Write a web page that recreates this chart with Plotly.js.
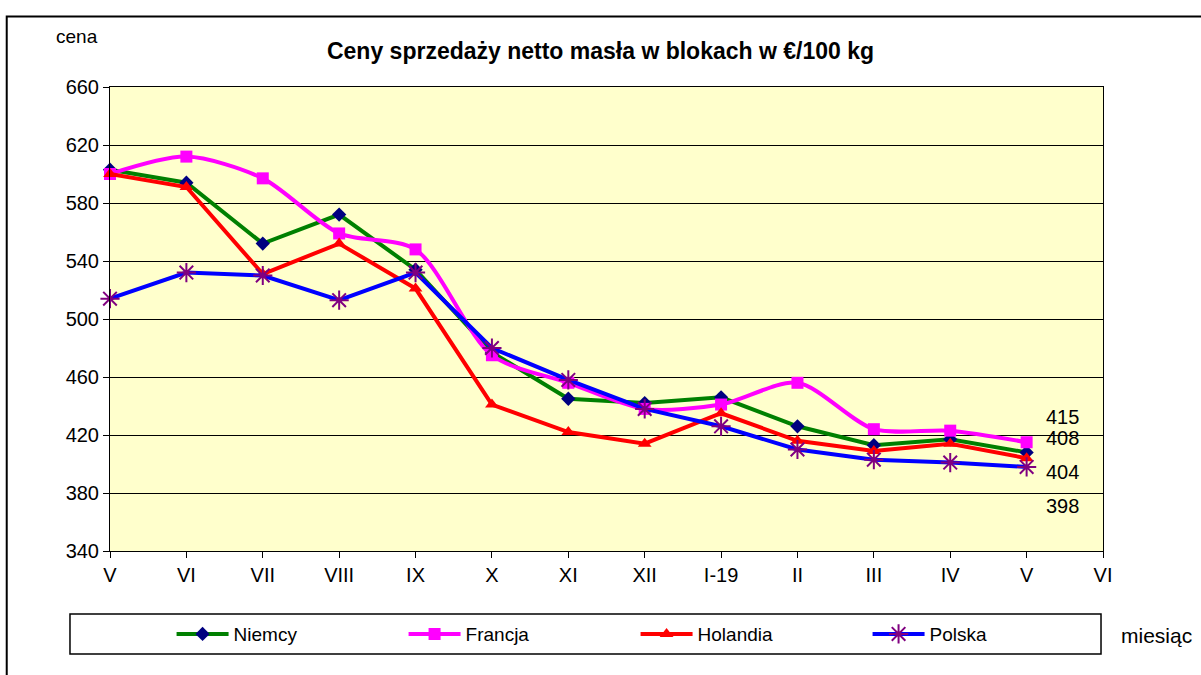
<!DOCTYPE html>
<html>
<head>
<meta charset="utf-8">
<script src="https://cdn.plot.ly/plotly-3.0.1.min.js"></script>
<style>html,body{margin:0;padding:0;background:#fff;}#chart{width:1201px;height:675px;}</style>
</head>
<body>
<div id="chart"></div>
<script>
const tickLabels = ["V","VI","VII","VIII","IX","X","XI","XII","I-19","II","III","IV","V","VI"];
const monthIdx = [0,1,2,3,4,5,6,7,8,9,10,11,12];
const niemcy   = [603,594,552,572,534,477,445,442,446,426,413,417,408];
const francja  = [600,612,597,559,548,475,456,438,441,456,424,423,415];
const holandia = [600,591,531,552,521,441,422,414,435,416,409,414,404];
const polska   = [514,532,530,513,532,480,458,438,426,410,403,401,398];
const seriesNames = ["Niemcy","Francja","Holandia","Polska"];

const font = "Liberation Sans, Arial, sans-serif";

const traces = [
  {name: seriesNames[0], x: monthIdx, y: niemcy, mode: "lines+markers", cliponaxis: false,
   line: {color: "#008000", width: 4},
   marker: {symbol: "diamond", size: 11, color: "#000080"}},
  {name: seriesNames[1], x: monthIdx, y: francja, mode: "lines+markers", cliponaxis: false,
   line: {color: "#FF00FF", width: 4, shape: "spline", smoothing: 0.8},
   marker: {symbol: "square", size: 12, color: "#FF00FF"}},
  {name: seriesNames[2], x: monthIdx, y: holandia, mode: "lines+markers", cliponaxis: false,
   line: {color: "#FF0000", width: 4},
   marker: {symbol: "triangle-up", size: 12, color: "#FF0000"}},
  {name: seriesNames[3], x: monthIdx, y: polska, mode: "lines+markers", cliponaxis: false,
   line: {color: "#0000FF", width: 4},
   marker: {symbol: "asterisk-open", size: 16, color: "#800080", line: {color: "#800080", width: 2}}}
];

const last = monthIdx.length - 1;
const labelShifts = [14, 25, -14, -39];
const allSeries = [niemcy, francja, holandia, polska];
const annotations = allSeries.map((s, i) => ({
  x: monthIdx[last], y: s[last], xref: "x", yref: "y",
  text: String(s[last]), showarrow: false, xanchor: "left",
  xshift: 17, yshift: labelShifts[i],
  font: {family: font, size: 20, color: "#000"}
}));
annotations.push({
  xref: "paper", yref: "paper", x: -0.056, y: 1.108, text: "cena", showarrow: false,
  xanchor: "left", yanchor: "middle", font: {family: font, size: 19, color: "#000"}
});
annotations.push({
  xref: "paper", yref: "paper", x: 1.016, y: -0.183, text: "miesiąc", showarrow: false,
  xanchor: "left", yanchor: "middle", font: {family: font, size: 21, color: "#000"}
});

const layout = {
  width: 1201, height: 675,
  margin: {l: 110, r: 98, t: 87, b: 124},
  paper_bgcolor: "#ffffff",
  plot_bgcolor: "#FFFFCC",
  title: {text: "<b>Ceny sprzedaży netto masła w blokach w €/100 kg</b>",
          font: {family: font, size: 23, color: "#000"},
          x: 0.5, xanchor: "center", y: 0.925, yanchor: "middle"},
  xaxis: {
    range: [0, 13], tickmode: "array",
    tickvals: tickLabels.map((_, i) => i), ticktext: tickLabels,
    showgrid: false, zeroline: false,
    showline: true, linecolor: "#000", linewidth: 1, mirror: true,
    ticks: "outside", ticklen: 6, tickcolor: "#000",
    tickfont: {family: font, size: 20, color: "#000"}
  },
  yaxis: {
    range: [340, 660], dtick: 40, tick0: 340,
    showgrid: true, gridcolor: "#000", gridwidth: 1,
    zeroline: false, showline: true, linecolor: "#000", linewidth: 1, mirror: true,
    ticks: "outside", ticklen: 6, tickcolor: "#000",
    tickfont: {family: font, size: 20, color: "#000"}
  },
  showlegend: true,
  legend: {
    orientation: "h", x: 0.062, xanchor: "left", y: -0.179, yanchor: "middle",
    entrywidth: 165, entrywidthmode: "pixels",
    font: {family: font, size: 19, color: "#000"},
    bgcolor: "rgba(0,0,0,0)", borderwidth: 0, itemwidth: 52
  },
  shapes: [
    {type: "rect", xref: "paper", yref: "paper", x0: -0.0403, x1: 0.998, y0: -0.136, y1: -0.222,
     line: {color: "#000", width: 1.5}, fillcolor: "rgba(0,0,0,0)"},
    {type: "rect", xref: "paper", yref: "paper", x0: -0.104, x1: 1.2, y0: -0.4, y1: 1.152,
     line: {color: "#000", width: 2}, fillcolor: "rgba(0,0,0,0)"}
  ],
  annotations: annotations
};

Plotly.newPlot("chart", traces, layout, {displayModeBar: false, staticPlot: true});
</script>
</body>
</html>
